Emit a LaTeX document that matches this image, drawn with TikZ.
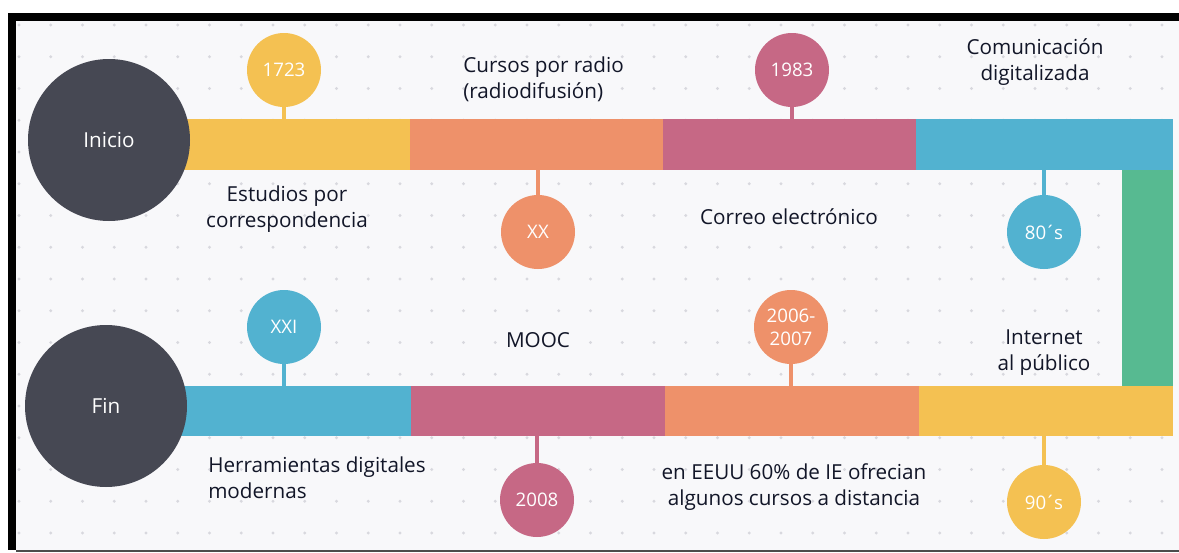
\documentclass[tikz,border=0pt]{standalone}
\usepackage{fontspec}
\setmainfont{Open Sans}
\usetikzlibrary{positioning,fit}
\definecolor{tlyellow}{RGB}{244,193,82}
\definecolor{tlorange}{RGB}{238,145,106}
\definecolor{tlpink}{RGB}{198,104,133}
\definecolor{tlblue}{RGB}{82,178,208}
\definecolor{tlgreen}{RGB}{87,186,145}
\definecolor{tldark}{RGB}{70,72,83}
\definecolor{tlpaper}{RGB}{248,248,250}
\definecolor{tldot}{RGB}{216,216,222}
\definecolor{tltext}{RGB}{18,22,40}
\newcommand{\tlacute}{\kern-0.08em´\kern-0.08em}
\tikzset{
  tl bar/.style={
    inner sep=0pt,
    outer sep=0pt,
    draw=none,
  },
  tl end/.style={
    circle,
    fill=tldark,
    minimum size=121.5pt,
    inner sep=0pt,
    text=white,
    font=\fontsize{15.5}{18}\selectfont,
  },
  tl year/.style={
    circle,
    minimum size=55.5pt,
    inner sep=0pt,
    text=white,
    align=center,
    font=\fontsize{14}{17}\selectfont,
  },
  tl stem/.style={
    line width=2.4pt,
  },
  tl label/.style={
    text=tltext,
    inner sep=0pt,
    font=\fontsize{15.5}{19.5}\selectfont,
  },
}

\begin{document}
\begin{tikzpicture}[x=0.75pt,y=-0.75pt]
  \useasboundingbox (0,0) rectangle (1179,553);
  % paper, frame and dot grid
  \fill[white] (0,0) rectangle (1179,553);
  \fill[tlpaper] (16,21) rectangle (1179,550);
  \foreach \i in {0,...,36}
    \foreach \j in {0,...,16}
      \fill[tldot] ({19+31.75*\i},{25+31.75*\j}) circle (1.2pt);
  \fill[black] (8,13) rectangle (1179,21);
  \fill[black] (8,13) rectangle (16,550);
  \fill[black!70] (16,550) rectangle (1179,552);

  % timeline bars
  \node[tl bar, fill=tlyellow, fit={(150,119) (410,170)}] (top1) {};
  \node[tl bar, fill=tlorange, fit={(410,119) (663,170)}] (top2) {};
  \node[tl bar, fill=tlpink, fit={(663,119) (916,170)}] (top3) {};
  \node[tl bar, fill=tlblue, fit={(916,119) (1173,170)}] (top4) {};
  \node[tl bar, fill=tlgreen, fit={(1122,170) (1173,386)}] (link) {};
  \node[tl bar, fill=tlblue, fit={(150,386) (411,436)}] (bot1) {};
  \node[tl bar, fill=tlpink, fit={(411,386) (665,436)}] (bot2) {};
  \node[tl bar, fill=tlorange, fit={(665,386) (919,436)}] (bot3) {};
  \node[tl bar, fill=tlyellow, fit={(919,386) (1173,436)}] (bot4) {};

  % start and end
  \node[tl end] (inicio) at (109,140) {Inicio};
  \node[tl end] (fin) at (106,406) {Fin};

  % dates
  \node[tl year, fill=tlyellow] (y1723) at (284,70) {1723};
  \node[tl year, fill=tlorange] (yxx) at (538,232) {XX};
  \node[tl year, fill=tlpink] (y1983) at (792,70) {1983};
  \node[tl year, fill=tlblue] (y80) at (1044,232) {80\tlacute s};
  \node[tl year, fill=tlblue] (yxxi) at (284,327) {XXI};
  \node[tl year, fill=tlpink] (y2008) at (537,500) {2008};
  \node[tl year, fill=tlorange] (y2006) at (791,327) {2006-\\2007};
  \node[tl year, fill=tlyellow] (y90) at (1044,502) {90\tlacute s};

  \draw[tl stem, tlyellow] (y1723.south) -- (y1723.south |- top1.north);
  \draw[tl stem, tlorange] (yxx.north) -- (yxx.north |- top2.south);
  \draw[tl stem, tlpink] (y1983.south) -- (y1983.south |- top3.north);
  \draw[tl stem, tlblue] (y80.north) -- (y80.north |- top4.south);
  \draw[tl stem, tlblue] (yxxi.south) -- (yxxi.south |- bot1.north);
  \draw[tl stem, tlpink] (y2008.north) -- (y2008.north |- bot2.south);
  \draw[tl stem, tlorange] (y2006.south) -- (y2006.south |- bot3.north);
  \draw[tl stem, tlyellow] (y90.north) -- (y90.north |- bot4.south);

  % events
  \node[tl label, align=center] (corresp) at (287,209) {Estudios por\\correspondencia};
  \node[tl label, align=left, anchor=west] (radio) at (463,79) {Cursos por radio\\(radiodifusión)};
  \node[tl label] (correo) at (789,217) {Correo electrónico};
  \node[tl label, align=center] (digital) at (1035,62) {Comunicación\\digitalizada};
  \node[tl label, align=left, anchor=west] (herram) at (208,478) {Herramientas digitales\\modernas};
  \node[tl label] (mooc) at (538,340) {MOOC};
  \node[tl label, align=center] (eeuu) at (794,487) {en EEUU 60\% de IE ofrecian\\algunos cursos a distancia};
  \node[tl label, align=center] (internet) at (1044,353) {Internet\\al público};
\end{tikzpicture}
\end{document}
